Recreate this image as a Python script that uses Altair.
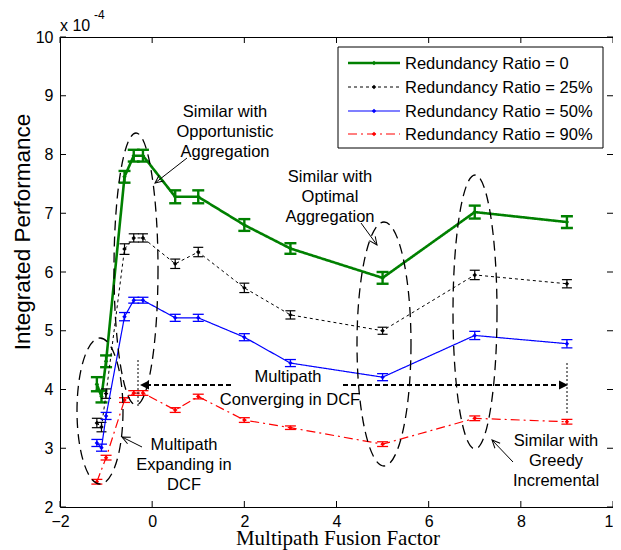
import math
import altair as alt
import pandas as pd

# ---------------- data ----------------
series = ["Redundancy Ratio = 0", "Redundancy Ratio = 25%",
          "Redundancy Ratio = 50%", "Redundancy Ratio = 90%"]

fusion_factor = [-1.2, -1.1, -1.0, -0.6, -0.4, -0.2, 0.5, 1, 2, 3, 5, 7, 9]
fusion_factor_r90 = [-1.2, -1.0, -0.6, -0.4, -0.2, 0.5, 1, 2, 3, 5, 7, 9]

perf_r0 = [4.09, 3.88, 4.48, 7.62, 7.98, 7.98, 7.28, 7.28, 6.80, 6.40, 5.90, 7.02, 6.85]
err_r0 = [0.12, 0.10, 0.10, 0.10, 0.10, 0.10, 0.11, 0.11, 0.10, 0.09, 0.10, 0.11, 0.10]

perf_r25 = [3.43, 3.36, 3.93, 6.39, 6.58, 6.58, 6.14, 6.34, 5.73, 5.27, 5.00, 5.95, 5.80]
err_r25 = [0.08, 0.08, 0.08, 0.09, 0.07, 0.07, 0.08, 0.08, 0.08, 0.07, 0.06, 0.08, 0.07]

perf_r50 = [3.09, 3.01, 3.55, 5.24, 5.52, 5.52, 5.22, 5.22, 4.89, 4.45, 4.21, 4.92, 4.78]
err_r50 = [0.06, 0.06, 0.06, 0.07, 0.05, 0.05, 0.06, 0.06, 0.06, 0.06, 0.06, 0.07, 0.07]

perf_r90 = [2.43, 2.84, 3.82, 3.94, 3.94, 3.65, 3.88, 3.48, 3.35, 3.07, 3.51, 3.45]
err_r90 = [0.04, 0.04, 0.04, 0.04, 0.04, 0.04, 0.04, 0.04, 0.03, 0.04, 0.04, 0.04]

x_ticks = [-2, 0, 2, 4, 6, 8, 10]
y_ticks = [2, 3, 4, 5, 6, 7, 8, 9, 10]

# ---------------- layout ----------------
W, H = 553, 470
XD = [-2, 10]
YD = [2, 10]
X0, Y0 = 60, 37  # plot origin on the page


def px2x(px):
    return XD[0] + (px - X0) / W * (XD[1] - XD[0])


def py2y(py):
    return YD[1] - (py - Y0) / H * (YD[1] - YD[0])


XS = alt.Scale(domain=XD, nice=False, zero=False)
YS = alt.Scale(domain=YD, nice=False, zero=False)
FONT = "Liberation Sans"
XA = alt.Axis(values=x_ticks, title=None, grid=False, ticks=False, tickSize=0,
              domain=False, labelFont=FONT, labelFontSize=16, labelColor="black",
              labelPadding=6, labelFlush=False, labelOverlap=False)
YA = alt.Axis(values=y_ticks, title=None, grid=False, ticks=False, tickSize=0,
              domain=False, labelFont=FONT, labelFontSize=16, labelColor="black",
              labelPadding=7, labelFlush=False, labelOverlap=False)


def X(f):
    return alt.X(f, type="quantitative", scale=XS, axis=XA)


def Y(f):
    return alt.Y(f, type="quantitative", scale=YS, axis=YA)


styles = {
    series[0]: dict(color="#008000", dash=[1, 0], width=2.6, ew=2.4, cap=12),
    series[1]: dict(color="#000000", dash=[3, 3], width=1.0, ew=1.2, cap=10),
    series[2]: dict(color="#0000ff", dash=[1, 0], width=1.2, ew=1.3, cap=11),
    series[3]: dict(color="#ff0000", dash=[9, 4, 2, 4], width=1.2, ew=1.3, cap=11),
}
series_data = [
    (series[0], fusion_factor, perf_r0, err_r0),
    (series[1], fusion_factor, perf_r25, err_r25),
    (series[2], fusion_factor, perf_r50, err_r50),
    (series[3], fusion_factor_r90, perf_r90, err_r90),
]

layers = []
for name, xs, ys, es in series_data:
    st = styles[name]
    d = pd.DataFrame({"x": xs, "y": ys,
                      "lo": [a - b for a, b in zip(ys, es)],
                      "hi": [a + b for a, b in zip(ys, es)]})
    base = alt.Chart(d)
    layers.append(base.mark_line(color=st["color"], strokeDash=st["dash"],
                                 strokeWidth=st["width"]).encode(x=X("x"), y=Y("y"), order="x:Q"))
    layers.append(base.mark_rule(color=st["color"], strokeWidth=st["ew"]).encode(
        x=X("x"), y=Y("lo"), y2=alt.Y2("hi")))
    for f in ["lo", "hi"]:
        layers.append(base.mark_tick(color=st["color"], thickness=st["ew"], size=st["cap"],
                                     orient="horizontal", opacity=1).encode(x=X("x"), y=Y(f)))
    layers.append(base.mark_point(shape="diamond", filled=True, size=20, color=st["color"],
                                  opacity=1).encode(x=X("x"), y=Y("y")))

# ---------------- inside ticks on all four sides ----------------
tx = alt.Chart(pd.DataFrame({"x": x_ticks}))
ty = alt.Chart(pd.DataFrame({"y": y_ticks}))
TL = 6
layers.append(tx.mark_rule(color="black", strokeWidth=1).encode(
    x=X("x"), y=alt.value(H), y2=alt.value(H - TL)))
layers.append(tx.mark_rule(color="black", strokeWidth=1).encode(
    x=X("x"), y=alt.value(0), y2=alt.value(TL)))
layers.append(ty.mark_rule(color="black", strokeWidth=1).encode(
    y=Y("y"), x=alt.value(0), x2=alt.value(TL)))
layers.append(ty.mark_rule(color="black", strokeWidth=1).encode(
    y=Y("y"), x=alt.value(W), x2=alt.value(W - TL)))

# ---------------- annotations ----------------
# dashed ellipses (page px): centre x, centre y, half-width, half-height
ellipses = [(100, 411, 23, 73), (136, 269, 22, 136), (384, 344, 27, 122), (475, 312, 22, 137)]
k = 0.5523


def ellipse_path(r):
    return (f"M {r:.4f} 0 C {r:.4f} {k} {r*k:.4f} 1 0 1 "
            f"C {-r*k:.4f} 1 {-r:.4f} {k} {-r:.4f} 0 "
            f"C {-r:.4f} {-k} {-r*k:.4f} -1 0 -1 "
            f"C {r*k:.4f} -1 {r:.4f} {-k} {r:.4f} 0 Z")


ell_df = pd.DataFrame({
    "x": [px2x(e[0]) for e in ellipses],
    "y": [py2y(e[1]) for e in ellipses],
    "shape": [ellipse_path(e[2] / e[3]) for e in ellipses],
    "size": [(2 * e[3]) ** 2 for e in ellipses],
})
layers.append(alt.Chart(ell_df).mark_point(filled=False, color="black", strokeWidth=1.3,
                                           strokeDash=[10, 6], opacity=1).encode(
    x=X("x"), y=Y("y"), shape=alt.Shape("shape:N", scale=None, legend=None),
    size=alt.Size("size:Q", scale=None, legend=None)))

# thin pointer arrows (page px): tail -> tip
arrows = [((187, 158), (155, 183)),
          ((361, 223), (377, 245)),
          ((142, 447), (122, 437)),
          ((513, 462), (492, 440))]
arr_df = pd.DataFrame({
    "x": [px2x(a[0][0]) for a in arrows], "y": [py2y(a[0][1]) for a in arrows],
    "x2": [px2x(a[1][0]) for a in arrows], "y2": [py2y(a[1][1]) for a in arrows],
})
layers.append(alt.Chart(arr_df).mark_rule(color="black", strokeWidth=1).encode(
    x=X("x"), y=Y("y"), x2=alt.X2("x2"), y2=alt.Y2("y2")))
head_df = pd.DataFrame({
    "x": [px2x(a[1][0]) for a in arrows], "y": [py2y(a[1][1]) for a in arrows],
    "angle": [math.degrees(math.atan2(a[1][1] - a[0][1], a[1][0] - a[0][0])) % 360 for a in arrows],
})
layers.append(alt.Chart(head_df).mark_point(shape="M -1 -0.45 L 0 0 L -1 0.45", filled=False,
                                            size=(2 * 8) ** 2, color="black", strokeWidth=1,
                                            opacity=1).encode(
    x=X("x"), y=Y("y"), angle=alt.Angle("angle:Q", scale=None)))

# thick dashed double arrow for "Multipath Converging in DCF"
conv_y = 385
conv_df = pd.DataFrame({"x": [px2x(146), px2x(343)], "x2": [px2x(232), px2x(561)],
                        "y": [py2y(conv_y)] * 2})
layers.append(alt.Chart(conv_df).mark_rule(color="black", strokeWidth=2.2, strokeDash=[5, 3]).encode(
    x=X("x"), x2=alt.X2("x2"), y=Y("y")))
conv_heads = pd.DataFrame({"x": [px2x(140), px2x(568)], "y": [py2y(conv_y)] * 2, "angle": [180, 0]})
layers.append(alt.Chart(conv_heads).mark_point(shape="M 0 0 L -1 -0.5 L -1 0.5 Z", filled=True,
                                               size=(2 * 9) ** 2, color="black", opacity=1).encode(
    x=X("x"), y=Y("y"), angle=alt.Angle("angle:Q", scale=None)))
dot_df = pd.DataFrame({"x": [px2x(138), px2x(567)], "y": [py2y(360), py2y(363)],
                       "y2": [py2y(407), py2y(415)]})
layers.append(alt.Chart(dot_df).mark_rule(color="black", strokeWidth=1, strokeDash=[2, 2]).encode(
    x=X("x"), y=Y("y"), y2=alt.Y2("y2")))

# annotation text (page px: centre x, baseline y)
notes = [
    ("Similar with", 225, 117), ("Opportunistic", 225, 137), ("Aggregation", 225, 157),
    ("Similar with", 330, 182), ("Optimal", 330, 202), ("Aggregation", 330, 222),
    ("Multipath", 184, 450), ("Expanding in", 184, 470), ("DCF", 184, 490),
    ("Multipath", 288, 382), ("Converging in DCF", 290, 405),
    ("Similar with", 556, 446), ("Greedy", 556, 466), ("Incremental", 556, 486),
]
note_df = pd.DataFrame({"text": [n[0] for n in notes],
                        "x": [px2x(n[1]) for n in notes],
                        "y": [py2y(n[2]) for n in notes]})
layers.append(alt.Chart(note_df).mark_text(align="center", baseline="alphabetic", font=FONT,
                                           fontSize=16.5, color="black").encode(
    x=X("x"), y=Y("y"), text="text:N"))

# ---------------- axis titles and exponent ----------------
one = alt.Chart(pd.DataFrame({"a": [0]}))
layers.append(one.mark_text(text="Integrated Performance", angle=270, font=FONT, fontSize=22.5,
                            align="center", baseline="middle", color="black").encode(
    x=alt.value(23 - X0), y=alt.value(232 - Y0)))
layers.append(one.mark_text(text="Multipath Fusion Factor", font="Liberation Serif", fontSize=21,
                            align="center", baseline="alphabetic", color="black").encode(
    x=alt.value(338 - X0), y=alt.value(545 - Y0)))
layers.append(one.mark_text(text="x 10", font=FONT, fontSize=16, align="left",
                            baseline="alphabetic", color="black").encode(
    x=alt.value(60 - X0), y=alt.value(31 - Y0)))
layers.append(one.mark_text(text="-4", font=FONT, fontSize=12, align="left",
                            baseline="alphabetic", color="black").encode(
    x=alt.value(94 - X0), y=alt.value(19 - Y0)))

# ---------------- legend ----------------
LB = dict(x=338 - X0, x2=603 - X0, y=47 - Y0, y2=148 - Y0)
layers.append(one.mark_rect(fill="white", stroke="black", strokeWidth=1).encode(
    x=alt.value(LB["x"]), x2=alt.value(LB["x2"]), y=alt.value(LB["y"]), y2=alt.value(LB["y2"])))
legend_rows = [63, 87, 111, 134]
for name, row in zip(series, legend_rows):
    st = styles[name]
    ly = row - Y0
    layers.append(one.mark_rule(color=st["color"], strokeDash=st["dash"],
                                strokeWidth=st["width"]).encode(
        x=alt.value(348 - X0), x2=alt.value(400 - X0), y=alt.value(ly)))
    layers.append(one.mark_point(shape="diamond", filled=True, size=20, color=st["color"],
                                 opacity=1).encode(x=alt.value(374 - X0), y=alt.value(ly)))
    layers.append(one.mark_text(text=name, font=FONT, fontSize=16.5, align="left",
                                baseline="middle", color="black").encode(
        x=alt.value(405 - X0), y=alt.value(ly + 1)))

chart = alt.layer(*layers).properties(
    width=W, height=H,
    padding={"left": 52, "top": 29, "right": 0, "bottom": 43},
    autosize=alt.AutoSizeParams(type="none"),
    background="white",
).configure_view(stroke="black", strokeWidth=1)

chart.save("out.html", embed_options={"renderer": "svg", "actions": False})
